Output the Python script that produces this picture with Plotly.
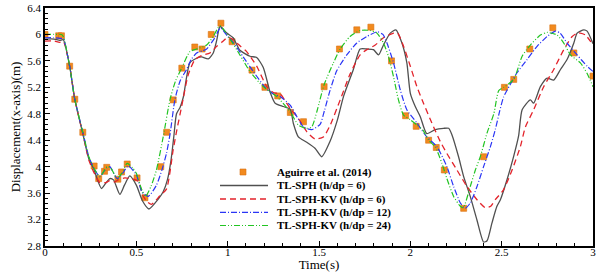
import plotly.graph_objects as go

# ---------------- data ----------------
exp_t = [0.0, 0.075, 0.09, 0.135, 0.163, 0.207, 0.269, 0.294, 0.326, 0.338, 0.399, 0.419,
         0.45, 0.504, 0.547, 0.634, 0.666, 0.702, 0.749, 0.82, 0.86, 0.91, 0.963, 1.024,
         1.133, 1.204, 1.274, 1.343, 1.415, 1.528, 1.612, 1.707, 1.784, 1.897, 1.974, 2.032,
         2.1, 2.142, 2.186, 2.292, 2.401, 2.515, 2.566, 2.654, 2.78, 2.895, 3.0]
exp_v = [6.0, 5.98, 5.98, 5.52, 5.02, 4.52, 4.01, 3.82, 3.93, 3.99, 3.81, 3.92,
         4.04, 3.83, 3.53, 4.0, 4.52, 5.01, 5.49, 5.81, 5.78, 6.0, 6.17, 5.89,
         5.46, 5.2, 5.07, 4.82, 4.68, 5.21, 5.78, 6.07, 6.11, 5.6, 4.77, 4.61,
         4.4, 4.29, 3.95, 3.37, 4.15, 5.2, 5.32, 5.78, 6.1, 5.72, 5.37]

sph6_t = [0.0, 0.05, 0.08, 0.1, 0.135, 0.163, 0.207, 0.24, 0.269, 0.29, 0.309, 0.33, 0.355,
          0.375, 0.41, 0.435, 0.464, 0.5, 0.534, 0.569, 0.62, 0.647, 0.67, 0.69, 0.705, 0.72,
          0.74, 0.757, 0.775, 0.793, 0.83, 0.857, 0.894, 0.921, 0.94, 0.958, 0.995, 1.03,
          1.067, 1.122, 1.159, 1.195, 1.232, 1.26, 1.305, 1.342, 1.36, 1.387, 1.433, 1.478,
          1.515, 1.56, 1.6, 1.634, 1.688, 1.725, 1.762, 1.798, 1.826, 1.853, 1.89, 1.921,
          1.954, 1.981, 2.0, 2.027, 2.054, 2.09, 2.136, 2.182, 2.21, 2.228, 2.264, 2.292,
          2.328, 2.365, 2.401, 2.42, 2.447, 2.474, 2.493, 2.53, 2.566, 2.593, 2.612, 2.657,
          2.675, 2.712, 2.749, 2.785, 2.822, 2.858, 2.895, 2.913, 2.95, 2.968, 3.0]
sph6_v = [5.93, 5.93, 5.91, 5.92, 5.52, 5.02, 4.5, 4.12, 3.95, 3.78, 3.67, 3.74, 3.82,
          3.8, 3.58, 3.72, 3.86, 3.72, 3.48, 3.36, 3.51, 3.62, 3.8, 4.1, 4.45, 4.8,
          4.9, 5.05, 5.35, 5.57, 5.64, 5.66, 5.63, 5.72, 5.91, 6.12, 6.02, 5.95,
          5.76, 5.67, 5.65, 5.5, 5.13, 4.96, 4.91, 4.87, 4.65, 4.45, 4.37, 4.28,
          4.15, 4.38, 4.7, 5.06, 5.47, 5.78, 5.78, 5.77, 5.69, 5.84, 6.02, 6.07,
          5.87, 5.57, 5.11, 4.91, 4.76, 4.5, 4.56, 4.58, 4.58, 4.48, 4.15, 3.85,
          3.55, 3.19, 2.86, 2.88, 3.15, 3.4, 3.5, 3.81, 4.16, 4.47, 4.86, 5.01,
          4.96, 5.21, 5.34, 5.31, 5.47, 5.62, 5.87, 6.02, 6.07, 6.05, 5.86]

kv6_t = [0.0, 0.05, 0.08, 0.1, 0.135, 0.163, 0.207, 0.24, 0.27, 0.3, 0.333, 0.355, 0.382,
         0.4, 0.437, 0.483, 0.51, 0.537, 0.556, 0.583, 0.629, 0.665, 0.702, 0.72, 0.748,
         0.784, 0.821, 0.857, 0.903, 0.94, 0.976, 1.0, 1.03, 1.07, 1.104, 1.159, 1.214,
         1.25, 1.287, 1.342, 1.387, 1.433, 1.478, 1.524, 1.56, 1.616, 1.67, 1.725, 1.762,
         1.808, 1.853, 1.908, 1.93, 1.963, 2.0, 2.036, 2.072, 2.118, 2.164, 2.2, 2.255,
         2.31, 2.365, 2.41, 2.44, 2.465, 2.51, 2.557, 2.602, 2.63, 2.675, 2.73, 2.785,
         2.84, 2.886, 2.913, 2.93, 2.959, 3.0]
kv6_v = [5.9, 5.9, 5.88, 5.9, 5.52, 5.02, 4.5, 4.1, 3.9, 3.76, 3.76, 3.79, 3.77,
         3.8, 3.83, 3.81, 3.78, 3.56, 3.48, 3.43, 3.56, 3.66, 4.26, 4.53, 4.91,
         5.39, 5.62, 5.68, 5.72, 5.82, 5.9, 5.96, 5.92, 5.82, 5.74, 5.52, 5.21,
         5.12, 5.1, 4.88, 4.73, 4.53, 4.42, 4.45, 4.62, 5.01, 5.4, 5.69, 5.77,
         5.84, 5.95, 6.02, 6.02, 5.82, 5.52, 5.21, 4.96, 4.66, 4.38, 4.2, 3.95,
         3.7, 3.5, 3.38, 3.4, 3.5, 3.65, 3.95, 4.3, 4.6, 4.86, 5.21, 5.47,
         5.77, 5.97, 6.02, 6.02, 5.99, 5.84]

kv12_t = [0.0, 0.05, 0.09, 0.1, 0.135, 0.163, 0.207, 0.24, 0.269, 0.3, 0.337, 0.355, 0.395,
          0.425, 0.455, 0.5, 0.53, 0.565, 0.61, 0.64, 0.665, 0.685, 0.711, 0.74, 0.775,
          0.8, 0.83, 0.86, 0.885, 0.93, 0.96, 1.0, 1.03, 1.085, 1.14, 1.214, 1.25, 1.287,
          1.342, 1.378, 1.415, 1.46, 1.506, 1.53, 1.56, 1.597, 1.652, 1.707, 1.762, 1.82,
          1.85, 1.872, 1.908, 1.945, 1.981, 2.036, 2.09, 2.146, 2.2, 2.237, 2.274, 2.3,
          2.328, 2.365, 2.401, 2.438, 2.465, 2.49, 2.51, 2.53, 2.584, 2.639, 2.694, 2.749,
          2.794, 2.82, 2.858, 2.913, 2.968, 3.0]
kv12_v = [5.95, 5.95, 5.94, 5.94, 5.52, 5.02, 4.52, 4.15, 3.97, 3.85, 3.98, 4.0, 3.82,
          3.9, 4.01, 3.88, 3.62, 3.55, 3.72, 3.95, 4.2, 4.5, 5.01, 5.3, 5.47,
          5.62, 5.72, 5.75, 5.78, 5.95, 6.1, 5.97, 5.88, 5.66, 5.44, 5.17, 5.1, 5.06,
          4.93, 4.76, 4.6, 4.56, 4.64, 4.85, 5.15, 5.45, 5.69, 5.87, 5.97, 6.04,
          6.0, 5.87, 5.57, 5.16, 4.86, 4.66, 4.45, 4.3, 4.0, 3.7, 3.45, 3.37,
          3.45, 3.7, 4.0, 4.3, 4.56, 4.85, 5.05, 5.16, 5.42, 5.62, 5.82, 5.97,
          6.05, 6.02, 5.87, 5.69, 5.52, 5.44]

kv24_t = [0.0, 0.05, 0.09, 0.1, 0.135, 0.163, 0.207, 0.24, 0.269, 0.3, 0.34, 0.36, 0.395,
          0.42, 0.45, 0.48, 0.5, 0.53, 0.55, 0.58, 0.61, 0.647, 0.684, 0.715, 0.748, 0.793,
          0.83, 0.885, 0.921, 0.958, 1.013, 1.067, 1.122, 1.195, 1.269, 1.342, 1.387, 1.43,
          1.46, 1.49, 1.528, 1.579, 1.616, 1.67, 1.725, 1.78, 1.817, 1.853, 1.88, 1.908,
          1.935, 1.963, 2.0, 2.036, 2.07, 2.1, 2.136, 2.173, 2.2, 2.237, 2.274, 2.29, 2.328,
          2.356, 2.383, 2.42, 2.457, 2.484, 2.511, 2.566, 2.612, 2.657, 2.712, 2.749, 2.804,
          2.84, 2.877, 2.931, 2.968, 3.0]
kv24_v = [6.0, 6.0, 6.0, 5.97, 5.52, 5.02, 4.52, 4.15, 3.97, 3.85, 4.0, 3.98, 3.82,
          3.9, 4.05, 3.98, 3.9, 3.65, 3.55, 3.7, 3.95, 4.45, 5.01, 5.3, 5.49, 5.74,
          5.78, 5.84, 5.97, 6.13, 5.93, 5.69, 5.44, 5.21, 5.06, 4.83, 4.63, 4.58,
          4.6, 4.85, 5.24, 5.57, 5.78, 5.97, 6.06, 6.06, 6.02, 5.87, 5.67, 5.36,
          5.01, 4.78, 4.71, 4.63, 4.55, 4.4, 4.3, 4.05, 3.82, 3.55, 3.4, 3.38, 3.7,
          3.95, 4.15, 4.51, 4.8, 5.15, 5.2, 5.32, 5.67, 5.84, 5.99, 6.03, 5.99,
          5.87, 5.69, 5.57, 5.41, 5.21]

legend_labels = ["Aguirre et al. (2014)", "TL-SPH (h/dp = 6)", "TL-SPH-KV (h/dp = 6)",
                 "TL-SPH-KV (h/dp = 12)", "TL-SPH-KV (h/dp = 24)"]

x_ticks = [0, 0.5, 1, 1.5, 2, 2.5, 3]
y_ticks = [2.8, 3.2, 3.6, 4, 4.4, 4.8, 5.2, 5.6, 6, 6.4]

# ---------------- styles ----------------
FONT = "Times New Roman, Liberation Serif, DejaVu Serif, serif"
ORANGE = "#F28A1E"
BLACK_L = "#505050"
RED = "#E3232B"
BLUE = "#2A35F5"
GREEN = "#22C422"
DASH_RED = "6px,4px"
DASH_BLUE = "6px,2px,1px,2px"
DASH_GREEN = "6px,2px,1px,2px,1px,2px"

W, H = 598, 272
ML, MR, MT, MB = 45, 5, 8, 26
PW, PH = W - ML - MR, H - MT - MB

fig = go.Figure()
fig.add_trace(go.Scatter(x=exp_t, y=exp_v, mode="markers", name=legend_labels[0],
                         marker=dict(symbol="square", size=6, color=ORANGE,
                                     line=dict(width=0.6, color="#D87010"))))
series = [
    (sph6_t, sph6_v, BLACK_L, "solid", 1.3, legend_labels[1]),
    (kv6_t, kv6_v, RED, DASH_RED, 1.3, legend_labels[2]),
    (kv12_t, kv12_v, BLUE, DASH_BLUE, 1.2, legend_labels[3]),
    (kv24_t, kv24_v, GREEN, DASH_GREEN, 1.2, legend_labels[4]),
]
for t, v, c, d, w, name in series:
    fig.add_trace(go.Scatter(x=t, y=v, mode="lines", name=name,
                             line=dict(color=c, dash=d, width=w, shape="spline", smoothing=0.6)))


def px2paper(px, py):
    return (px - ML) / PW, (MT + PH - py) / PH


# manual legend (compact spacing as in the reference)
rows = [172, 185.5, 199, 212.3, 225.5]
line_x0, line_x1, text_x = 220, 268, 275
shapes = []
annotations = []
styles = [None] + [(c, d, w) for _, _, c, d, w, _ in series]
for i, (lab, ry) in enumerate(zip(legend_labels, rows)):
    if i == 0:
        cx, cy = px2paper(243, ry)
        hx, hy = 3 / PW, 3 / PH
        shapes.append(dict(type="rect", xref="paper", yref="paper", x0=cx - hx, x1=cx + hx,
                           y0=cy - hy, y1=cy + hy, fillcolor=ORANGE,
                           line=dict(width=0.6, color="#D87010")))
    else:
        c, d, w = styles[i]
        x0, y0 = px2paper(line_x0, ry)
        x1, _ = px2paper(line_x1, ry)
        shapes.append(dict(type="line", xref="paper", yref="paper", x0=x0, x1=x1, y0=y0, y1=y0,
                           line=dict(color=c, dash=d, width=w)))
    tx, ty = px2paper(text_x, ry)
    annotations.append(dict(text="<b>" + lab + "</b>", xref="paper", yref="paper", x=tx, y=ty,
                            xanchor="left", yanchor="middle", showarrow=False,
                            font=dict(family=FONT, size=11, color="black")))

axis_common = dict(showline=True, linecolor="black", linewidth=1.6, mirror=True,
                   ticks="inside", ticklen=5, tickwidth=1, tickcolor="black",
                   showgrid=False, zeroline=False, automargin=False,
                   tickfont=dict(family=FONT, size=11, color="black"))

fig.update_layout(
    width=W, height=H,
    margin=dict(l=ML, r=MR, t=MT, b=MB),
    paper_bgcolor="white", plot_bgcolor="white",
    showlegend=False,
    font=dict(family=FONT, color="black"),
    xaxis=dict(range=[0, 3], tickvals=x_ticks, ticktext=[f"{x:g}" for x in x_ticks],
               minor=dict(ticks="inside", ticklen=3, dtick=0.1, tick0=0, tickcolor="black"),
               title=dict(text="Time(s)", font=dict(family=FONT, size=13), standoff=1),
               ticklabelstandoff=-5,
               **axis_common),
    yaxis=dict(range=[2.8, 6.4], tickvals=y_ticks, ticktext=[f"{y:g}" for y in y_ticks],
               minor=dict(ticks="inside", ticklen=3, dtick=0.08, tick0=2.8, tickcolor="black"),
               title=dict(text="Displacement(x-axis)(m)", font=dict(family=FONT, size=13), standoff=4),
               **axis_common),
    shapes=shapes,
    annotations=annotations,
)

fig.write_html("out.html", config={"displayModeBar": False},
               post_script="document.body.style.margin='0';document.body.style.padding='0';")
